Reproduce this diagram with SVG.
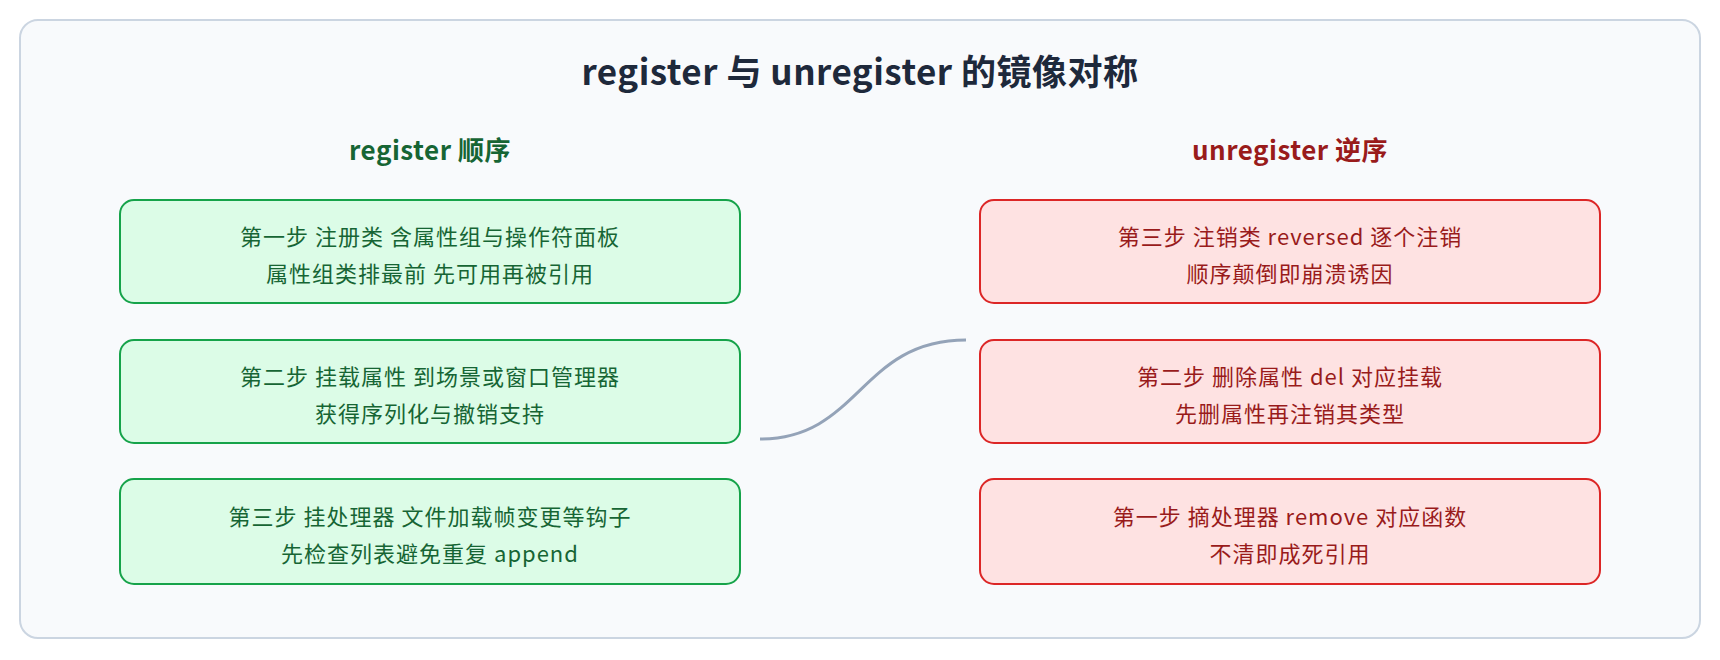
<svg xmlns="http://www.w3.org/2000/svg" width="1720" height="660" viewBox="0 0 1720 660">
<style>
text{font-family:"Noto Sans CJK SC","Noto Sans",sans-serif;text-anchor:middle}
.t{font-size:22px;letter-spacing:1px}
.g rect{fill:#dcfce7;stroke:#16a34a;stroke-width:2}
.g text{fill:#166534}
.r rect{fill:#fee2e2;stroke:#dc2626;stroke-width:2}
.r text{fill:#991b1b}
</style>
<rect x="20" y="20" width="1680" height="618" rx="18" fill="#f8fafc" stroke="#cbd5e1" stroke-width="2"/>
<text x="860" y="85" font-size="35" font-weight="bold" fill="#1e293b" letter-spacing="0.5">register 与 unregister 的镜像对称</text>
<text x="430" y="160" font-size="26" font-weight="bold" fill="#166534" letter-spacing="0.5">register 顺序</text>
<text x="1290" y="160" font-size="26" font-weight="bold" fill="#991b1b" letter-spacing="0.5">unregister 逆序</text>
<g id="connectors"><path d="M760,439 C860,439 860,340 966,340" fill="none" stroke="#94a3b8" stroke-width="3"/></g>
<g id="l1" class="g"><rect x="120" y="200" width="620" height="103" rx="14"/><text class="t" x="430" y="245">第一步 注册类 含属性组与操作符面板</text><text class="t" x="430" y="282">属性组类排最前 先可用再被引用</text></g>
<g id="l2" class="g"><rect x="120" y="340" width="620" height="103" rx="14"/><text class="t" x="430" y="385">第二步 挂载属性 到场景或窗口管理器</text><text class="t" x="430" y="422">获得序列化与撤销支持</text></g>
<g id="l3" class="g"><rect x="120" y="479" width="620" height="105" rx="14"/><text class="t" x="430" y="525">第三步 挂处理器 文件加载帧变更等钩子</text><text class="t" x="430" y="562">先检查列表避免重复 append</text></g>
<g id="r1" class="r"><rect x="980" y="200" width="620" height="103" rx="14"/><text class="t" x="1290" y="245">第三步 注销类 reversed 逐个注销</text><text class="t" x="1290" y="282">顺序颠倒即崩溃诱因</text></g>
<g id="r2" class="r"><rect x="980" y="340" width="620" height="103" rx="14"/><text class="t" x="1290" y="385">第二步 删除属性 del 对应挂载</text><text class="t" x="1290" y="422">先删属性再注销其类型</text></g>
<g id="r3" class="r"><rect x="980" y="479" width="620" height="105" rx="14"/><text class="t" x="1290" y="525">第一步 摘处理器 remove 对应函数</text><text class="t" x="1290" y="562">不清即成死引用</text></g>
</svg>
